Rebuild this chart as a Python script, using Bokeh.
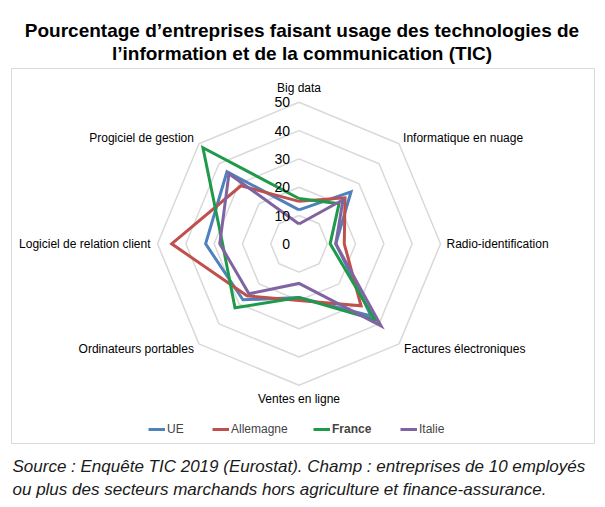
import numpy as np
from bokeh.plotting import figure
from bokeh.models import Range1d, Legend, LegendItem
from bokeh.core.properties import value
from bokeh.embed import file_html
from bokeh.resources import INLINE

# ---------------- data ----------------
title_lines = ["Pourcentage d’entreprises faisant usage des technologies de",
               "l’information et de la communication (TIC)"]
source_lines = ["Source : Enquête TIC 2019 (Eurostat). Champ : entreprises de 10 employés",
                "ou plus des secteurs marchands hors agriculture et finance-assurance."]
categories = ["Big data", "Informatique en nuage", "Radio-identification",
              "Factures électroniques", "Ventes en ligne", "Ordinateurs portables",
              "Logiciel de relation client", "Progiciel de gestion"]
series_names = ["UE", "Allemagne", "France", "Italie"]
ue = [12, 26, 13, 36, 19, 28, 33, 36]
allemagne = [15, 23, 16, 31, 20, 26, 45, 29]
france = [16, 20, 11, 38, 19, 32, 27, 48]
italie = [7, 22, 13, 41, 14, 25, 28, 35]
ticks = [0, 10, 20, 30, 40, 50]

colors = ["#4F81BD", "#C0504D", "#1E9A4A", "#8064A2"]
FONT = "Liberation Sans"

# ---------------- geometry ----------------
W, H = 597, 499
S = 2.83                 # pixels per unit
CX, CY = 298.5, 243.3    # radar centre in pixels (from top-left)
x0, x1 = -CX / S, (W - CX) / S
y0, y1 = -(H - CY) / S, CY / S


def px(fx, fy):
    return x0 + fx / S, y1 - fy / S


p = figure(width=W, height=H, x_range=Range1d(x0, x1), y_range=Range1d(y0, y1),
           min_border=0, toolbar_location=None, output_backend="svg",
           x_axis_type=None, y_axis_type=None, outline_line_color=None)
p.background_fill_color = "white"

# frame around chart area
bl = px(11, 443)
tr = px(594, 68)
p.quad(left=[bl[0]], right=[tr[0]], bottom=[bl[1]], top=[tr[1]],
       fill_color=None, line_color="#D9D9D9", line_width=1)

n = len(categories)
theta = np.pi / 2 - np.arange(n) * 2 * np.pi / n
ct, st = np.cos(theta), np.sin(theta)

# grid octagons
gx, gy = [], []
for r in ticks[1:]:
    gx.append(list(np.append(r * ct, r * ct[0])))
    gy.append(list(np.append(r * st, r * st[0])))
p.multi_line(gx, gy, line_color="#D9D9D9", line_width=1.5)

# series
renderers = []
for vals, col in zip([ue, allemagne, france, italie], colors):
    v = np.array(vals, dtype=float)
    xs = np.append(v * ct, v[0] * ct[0])
    ys = np.append(v * st, v[0] * st[0])
    r = p.line(xs, ys, line_color=col, line_width=3, line_join="miter")
    renderers.append(r)

# tick labels
p.text(x=[0] * len(ticks), y=ticks, text=[str(t) for t in ticks],
       x_offset=-9, text_align="right", text_baseline="middle",
       text_font=value(FONT), text_font_size="14px", text_color="#000000")

# category labels
rmax = ticks[-1]
aligns = ["center", "left", "left", "left", "center", "right", "right", "right"]
xoffs = [0, 4, 6, 5, 0, -5, -7, -5]
yoffs = [-14.5, -6, 0, 5, 13.5, 5, 0, -6]
for i, cat in enumerate(categories):
    p.text(x=[rmax * ct[i]], y=[rmax * st[i]], text=[cat],
           x_offset=xoffs[i], y_offset=yoffs[i], text_align=aligns[i],
           text_baseline="middle", text_font=value(FONT),
           text_font_size="12px", text_color="#000000")

# title
for line, fy in zip(title_lines, [30, 53]):
    tx, ty = px(301.5, fy)
    p.text(x=[tx], y=[ty], text=[line], text_align="center", text_baseline="middle",
           text_font=value(FONT), text_font_size="19px", text_font_style="bold",
           text_color="#000000")

# source
for line, fy in zip(source_lines, [466, 489]):
    sx, sy = px(12, fy)
    p.text(x=[sx], y=[sy], text=[line], text_align="left", text_baseline="middle",
           text_font=value(FONT), text_font_size="17px", text_font_style="italic",
           text_color="#1a1a1a")

# legends
leg_x = [148, 212, 313, 400]
for name, r, lx in zip(series_names, renderers, leg_x):
    lg = Legend(items=[LegendItem(label=name, renderers=[r])], location=(lx, H - 436),
                orientation="horizontal", padding=0, margin=0, spacing=0,
                glyph_width=17, glyph_height=12, label_height=12,
                label_standoff=2, border_line_color=None,
                background_fill_alpha=0, label_text_font=FONT,
                label_text_font_size="12px",
                label_text_font_style="bold" if name == "France" else "normal")
    p.add_layout(lg)

open("out.html", "w").write(file_html(p, INLINE))
